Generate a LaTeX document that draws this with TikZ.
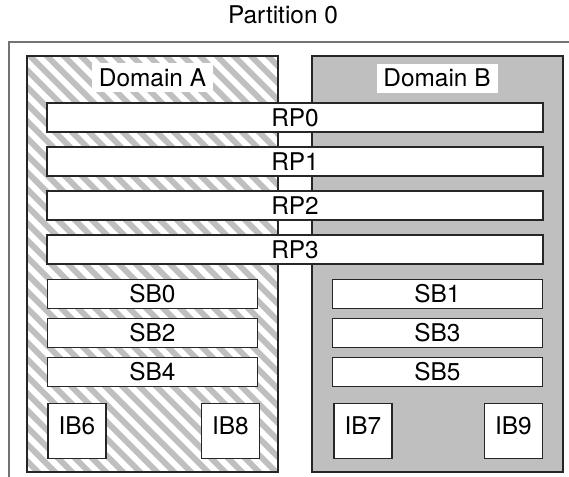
\documentclass[tikz,border=0pt]{standalone}
\usepackage{fontspec}
\setmainfont{TeX Gyre Heros}
\usepackage{tikz}

\tikzset{
	board/.style={draw=black!85, fill=white, line width=0.65pt, inner sep=0pt, font=\fontsize{12.2}{14}\selectfont},
	rpbox/.style={board, minimum width=248pt, minimum height=14.5pt},
	sbbox/.style={board, minimum width=105pt, minimum height=14.5pt},
	ibbox/.style={board, minimum width=29pt, minimum height=27.5pt, text height=8.7pt, text depth=5.5pt},
	domlabel/.style={fill=white, inner sep=0pt, minimum width=60.5pt, minimum height=14.5pt, font=\fontsize{12.2}{14}\selectfont}
}

\begin{document}
\begin{tikzpicture}[x=0.5pt,y=-0.5pt]
		\useasboundingbox (0,0) rectangle (569,477);
		\coordinate (pbl) at (9,477);
		\coordinate (ptl) at (9,42);
		\coordinate (ptr) at (569,42);
		\draw[black!55,line width=0.8pt] (pbl)--(ptl)--(ptr);
		\node (part) at (283,15) {\fontsize{12.2}{14}\selectfont Partition 0};
		\begin{scope}
			\clip (27,56) rectangle (278,472);
			\foreach \x in {-418,-401,...,290}
				\draw[line width=3pt,black!25] (\x,50)--++(430,430);
		\end{scope}
		\draw[black!85,line width=0.65pt] (27,56) rectangle (278,472);
		\draw[black!85,fill=black!25,line width=0.65pt] (312,56) rectangle (563,472);
		\node[domlabel] (domA) at (152.5,77.5) {Domain A};
		\node[domlabel] (domB) at (437,78) {Domain B};
		\foreach \k in {0,1,2,3}
			\node[rpbox] (rp\k) at (295,117.5+44*\k) {RP\k};
		\node[sbbox] (sb0) at (152.5,294) {SB0};
		\node[sbbox] (sb2) at (152.5,333) {SB2};
		\node[sbbox] (sb4) at (152.5,372) {SB4};
		\node[sbbox] (sb1) at (437.5,294) {SB1};
		\node[sbbox] (sb3) at (437.5,333) {SB3};
		\node[sbbox] (sb5) at (437.5,372) {SB5};
		\node[ibbox] (ib6) at (77,431) {IB6};
		\node[ibbox] (ib8) at (230.5,431) {IB8};
		\node[ibbox] (ib7) at (363,431) {IB7};
		\node[ibbox] (ib9) at (513.5,431) {IB9};
\end{tikzpicture}
\end{document}
